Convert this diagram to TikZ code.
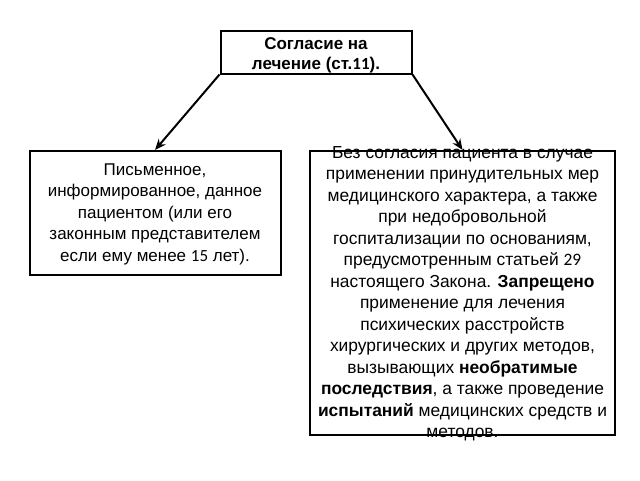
\documentclass[tikz,border=0pt]{standalone}
\usepackage{fontspec}
\setmainfont{Liberation Sans}
\newfontfamily\calibri{Carlito}
\usetikzlibrary{arrows.meta}

\tikzset{
  box/.style={draw, line width=2pt, inner sep=0pt},
  txt/.style={align=center, inner sep=0pt, font=\fontsize{17}{21.5}\selectfont},
  headtxt/.style={align=center, inner sep=0pt, font=\fontsize{17}{20}\selectfont\bfseries},
  arr/.style={line width=2pt, -{Stealth[length=11pt,width=9pt]}}
}

\begin{document}
\begin{tikzpicture}[x=1pt,y=-1pt]
\useasboundingbox (0,0) rectangle (640,480);

% frames
\node[box, minimum width=191pt, minimum height=43pt] (consent) at (316,52) {};
\node[box, minimum width=251pt, minimum height=124pt] (written) at (155,213) {};
\node[box, minimum width=305pt, minimum height=284pt] (without) at (462.5,293) {};

% texts
\node[headtxt] (consenttxt) at (316,55) {Согласие на\\лечение (ст.{\calibri 11}).};
\node[txt] (writtentxt) at (155,214) {Письменное,\\информированное, данное\\пациентом (или его\\законным представителем\\если ему менее {\calibri 15} лет).};
\node[txt, font=\fontsize{17.4}{21.5}\selectfont] (withouttxt) at (462.5,293.5) {Без согласия пациента в случае\\применении принудительных мер\\медицинского характера, а также\\при недобровольной\\госпитализации по основаниям,\\предусмотренным статьей {\calibri 29}\\настоящего Закона. \textbf{Запрещено}\\применение для лечения\\психических расстройств\\хирургических и других методов,\\вызывающих \textbf{необратимые}\\\textbf{последствия}, а также проведение\\\textbf{испытаний} медицинских средств и\\методов.};

% arrows
\draw[arr] (consent.south west) -- (written.north);
\draw[arr] (consent.south east) -- (without.north);
\end{tikzpicture}
\end{document}
